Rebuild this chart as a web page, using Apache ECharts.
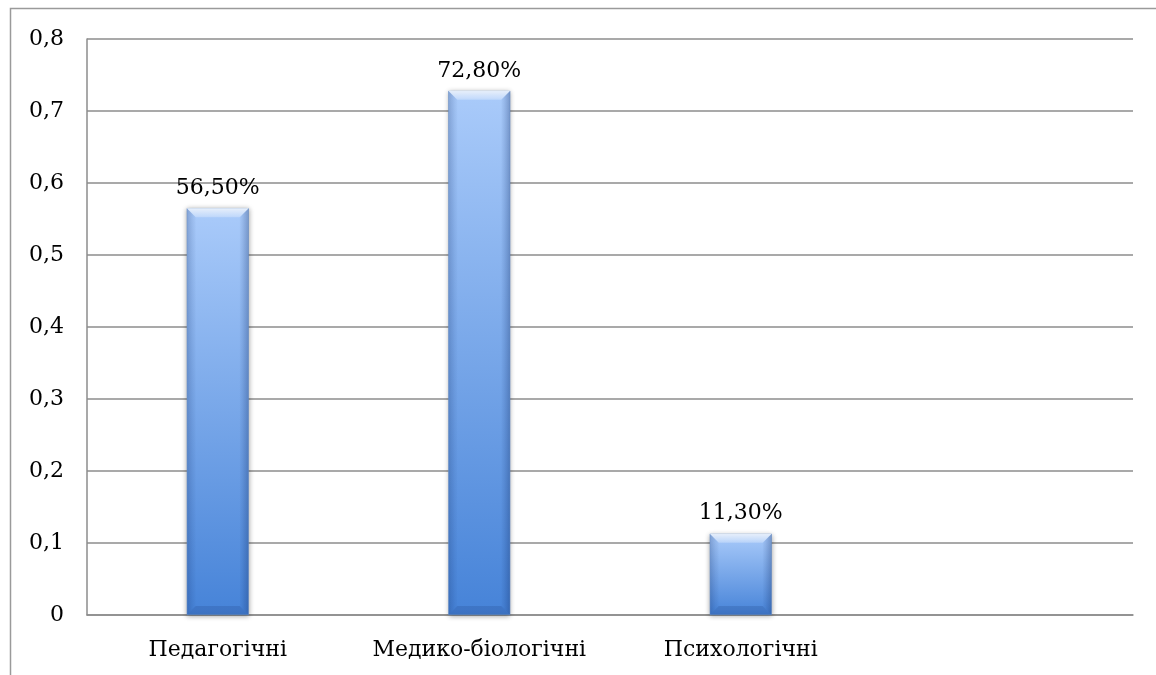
<!DOCTYPE html>
<html>
<head>
<meta charset="utf-8">
<script src="https://cdn.jsdelivr.net/npm/echarts@6/dist/echarts.min.js"></script>
<style>
  html, body { margin: 0; padding: 0; background: #fff; }
  #chart { width: 1156px; height: 675px; }
</style>
</head>
<body>
<div id="chart"></div>
<script>
// Categories and shares (fractions of 1)
const categories = ['Педагогічні', 'Медико-біологічні', 'Психологічні', ''];
const shares = [0.565, 0.728, 0.113, null];
const yTickLabels = ['0', '0,1', '0,2', '0,3', '0,4', '0,5', '0,6', '0,7', '0,8'];

const FONT = 'DejaVu Serif';
const BAR_W = 62;
const BEVEL = 9;

function pctLabel(v) {
  return (v * 100).toFixed(2).replace('.', ',') + '%';
}

// Bevelled edges drawn over each bar
function bevelItem(params, api) {
  const v = api.value(1);
  if (v == null || isNaN(v)) return null;
  const top = api.coord([api.value(0), v]);
  const base = api.coord([api.value(0), 0]);
  const x0 = top[0] - BAR_W / 2, x1 = top[0] + BAR_W / 2;
  const y0 = top[1], yb = base[1];
  const b = Math.min(BEVEL, (yb - y0) / 2);
  return {
    type: 'group',
    silent: true,
    children: [
      { type: 'polygon', shape: { points: [[x0, y0], [x1, y0], [x1 - b, y0 + b], [x0 + b, y0 + b]] },
        style: { fill: new echarts.graphic.LinearGradient(0, 0, 0, 1, [
          { offset: 0, color: 'rgba(255,255,255,0.75)' }, { offset: 1, color: 'rgba(255,255,255,0.25)' }]) } },
      { type: 'polygon', shape: { points: [[x0, y0], [x0 + b, y0 + b], [x0 + b, yb - b], [x0, yb]] },
        style: { fill: new echarts.graphic.LinearGradient(0, 0, 1, 0, [
          { offset: 0, color: 'rgba(20,50,110,0.22)' }, { offset: 1, color: 'rgba(20,50,110,0.02)' }]) } },
      { type: 'polygon', shape: { points: [[x1, y0], [x1 - b, y0 + b], [x1 - b, yb - b], [x1, yb]] },
        style: { fill: new echarts.graphic.LinearGradient(1, 0, 0, 0, [
          { offset: 0, color: 'rgba(20,50,110,0.3)' }, { offset: 1, color: 'rgba(20,50,110,0.02)' }]) } },
      { type: 'polygon', shape: { points: [[x0, yb], [x1, yb], [x1 - b, yb - b], [x0 + b, yb - b]] },
        style: { fill: 'rgba(20,50,110,0.18)' } }
    ]
  };
}

const chart = echarts.init(document.getElementById('chart'), null, { renderer: 'canvas' });

chart.setOption({
  animation: false,
  backgroundColor: '#ffffff',
  graphic: [{
    type: 'rect',
    shape: { x: 10.5, y: 8.5, width: 1300, height: 800 },
    style: { fill: 'none', stroke: '#9a9a9a', lineWidth: 1.5 },
    silent: true
  }],
  grid: { left: 87, right: 23, top: 39, bottom: 60 },
  xAxis: {
    type: 'category',
    data: categories,
    axisTick: { show: false },
    axisLine: { show: true, lineStyle: { color: '#8c8c8c', width: 1.5 } },
    axisLabel: { color: '#000', fontFamily: FONT, fontSize: 22, margin: 24, interval: 0, hideOverlap: false }
  },
  yAxis: {
    type: 'value',
    min: 0,
    max: 0.8,
    interval: 0.1,
    axisTick: { show: false },
    axisLine: { show: true, lineStyle: { color: '#8c8c8c', width: 1.5 } },
    splitLine: { show: true, lineStyle: { color: '#8c8c8c', width: 1.5 } },
    axisLabel: {
      color: '#000', fontFamily: FONT, fontSize: 22, margin: 23,
      formatter: function (v) { return yTickLabels[Math.round(v * 10)]; }
    }
  },
  series: [{
    type: 'bar',
    data: shares,
    barWidth: BAR_W,
    itemStyle: {
      color: new echarts.graphic.LinearGradient(0, 0, 0, 1, [
        { offset: 0, color: '#aacbfa' },
        { offset: 1, color: '#4683d8' }
      ]),
      borderColor: '#7ea6dc',
      borderWidth: 0.5,
      shadowColor: 'rgba(0,0,0,0.35)',
      shadowBlur: 5,
      shadowOffsetX: 0,
      shadowOffsetY: 1
    },
    label: {
      show: true,
      position: 'top',
      distance: 9,
      color: '#000',
      fontFamily: FONT,
      fontSize: 22,
      formatter: function (p) { return pctLabel(p.value); }
    }
  }, {
    type: 'custom',
    renderItem: bevelItem,
    data: shares.map(function (v, i) { return [i, v]; }),
    z: 3
  }]
});
</script>
</body>
</html>
